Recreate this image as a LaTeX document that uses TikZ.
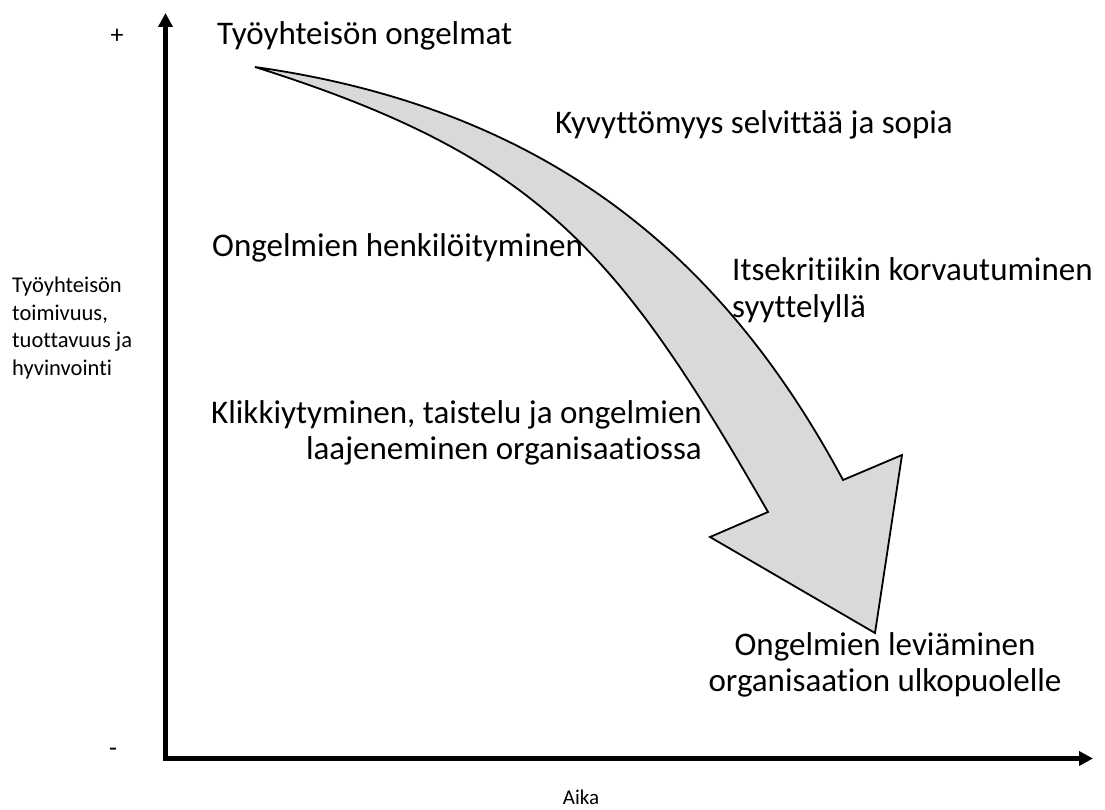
\documentclass[tikz,border=0pt]{standalone}
\usepackage{fontspec}
\setmainfont[Ligatures=NoCommon]{Carlito}
\usetikzlibrary{arrows.meta}
\definecolor{arrowfill}{RGB}{217,217,217}
\begin{document}
\begin{tikzpicture}[x=1pt,y=-1pt,
  axis/.style={line width=5pt, line join=miter,
    {Triangle[length=14pt,width=14pt]}-{Triangle[length=14pt,width=14pt]}},
  bigtext/.style={font=\fontsize{33}{36.5}\selectfont, inner sep=0pt},
  smalltext/.style={font=\fontsize{22.5}{27.5}\selectfont, inner sep=0pt, align=left},
  trend/.style={line width=1.8pt, fill=arrowfill, line join=miter}]
\useasboundingbox (0,0) rectangle (1105,810);

% axes
\coordinate (ytop) at (165.5,13);
\coordinate (origin) at (165.5,758.5);
\coordinate (xend) at (1093,758.5);
\draw[axis] (ytop) -- (origin) -- (xend);

% axis labels
\node[smalltext, font=\fontsize{26}{26}\selectfont] (plus) at (117,36) {+};
\node[smalltext, font=\fontsize{26}{26}\selectfont] (minus) at (113,752) {-};
\node[smalltext, anchor=west] (ylabel) at (12,328) {Työyhteisön\\toimivuus,\\tuottavuus ja\\hyvinvointi};
\node[smalltext, font=\fontsize{21}{28}\selectfont] (xlabel) at (581,797) {Aika};

% curved downward trend arrow
\draw[trend] (255,67) coordinate (tail)
  .. controls (552,109) and (725,260) .. (843,480) coordinate (rnotch)
  -- (902,455) coordinate (rbarb)
  -- (875,633) coordinate (tip)
  -- (710,537) coordinate (lbarb)
  -- (768,512) coordinate (lnotch)
  .. controls (618,251) and (540,157) .. cycle;

% stages
\node[bigtext, anchor=west] (s1) at (217,36) {Työyhteisön ongelmat};
\node[bigtext, anchor=west] (s2) at (555,125) {Kyvyttömyys selvittää ja sopia};
\node[bigtext, anchor=west] (s3) at (212,248) {Ongelmien henkilöityminen};
\node[bigtext, anchor=west, align=left] (s4) at (732,290) {Itsekritiikin korvautuminen\\syyttelyllä};
\node[bigtext, anchor=east, align=right] (s5) at (702,433) {Klikkiytyminen, taistelu ja ongelmien\\laajeneminen organisaatiossa};
\node[bigtext, align=center] (s6) at (885,665) {Ongelmien leviäminen\\organisaation ulkopuolelle};
\end{tikzpicture}
\end{document}
